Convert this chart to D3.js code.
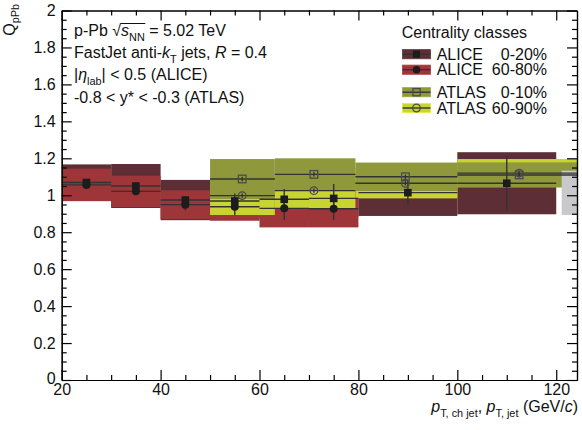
<!DOCTYPE html>
<html>
<head>
<meta charset="utf-8">
<script src="https://cdn.jsdelivr.net/npm/d3@7"></script>
<style>
  body { margin: 0; background: #fff; }
  svg text { font-family: "Liberation Sans", Arial, Helvetica, sans-serif; fill: #111; }
</style>
</head>
<body>
<svg id="chart" width="582" height="430"></svg>
<script>
// ALICE bins (pT, ch jet)
const aliceEdges = [20, 30, 40, 50, 60, 70, 80, 100, 120];
const alice020 = [1.069, 1.050, 0.974, 0.969, 0.978, 0.983, 1.014, 1.065];
const alice020Stat = [0.010, 0.012, 0.020, 0.040, 0.056, 0.078, 0.066, 0.148];
const alice020Sys = [0.098, 0.119, 0.109, 0.100, 0.100, 0.100, 0.126, 0.168];
const alice6080 = [1.056, 1.021, 0.949, 0.938, 0.929, 0.927];
const alice6080Stat = [0.010, 0.015, 0.030, 0.045, 0.063, 0.061];
const alice6080Sys = [0.088, 0.085, 0.078, 0.076, 0.103, 0.101];

// ATLAS bins (pT, jet)
const atlasEdges = [50, 63.1, 79.4, 100, 125.9];
const atlasX = [56.5, 71, 89.5, 112.5];
const atlas010 = [1.088, 1.113, 1.100, 1.110];
const atlas010Stat = [0.012, 0.012, 0.012, 0.012];
const atlas010Sys = [0.108, 0.087, 0.077, 0.068];
const atlas6090 = [0.998, 1.025, 1.065, 1.120];
const atlas6090Stat = [0.012, 0.012, 0.012, 0.012];
const atlas6090Sys = [0.105, 0.096, 0.082, 0.076];

// normalisation uncertainty box
const normX = [121.1, 124.2];
const normY = [0.893, 1.133];

const xMajor = [20, 40, 60, 80, 100, 120];
const xMinor = d3.range(25, 125, 5).filter((v) => v % 20 !== 0);
const yMajor = [0, 0.2, 0.4, 0.6, 0.8, 1, 1.2, 1.4, 1.6, 1.8, 2];
const yMinor = d3.range(0.05, 2, 0.05).filter((v) => Math.abs(v * 5 - Math.round(v * 5)) > 1e-6);

const FS = 16;
const colors = {
  a020: "#5e2e36",
  a6080: "#9d3539",
  t010: "#8f993b",
  t6090: "#c8d431",
  norm: "#c9c9cc",
  line: "#333",
  mark: "#1c1c1c",
  open: "#4a4a4a"
};

const svg = d3.select("#chart");
const x = d3.scaleLinear().domain([20, 124.2]).range([61.7, 577]);
const y = d3.scaleLinear().domain([0, 2]).range([380, 10.5]);

svg.append("defs").append("clipPath").attr("id", "clip")
  .append("rect")
  .attr("x", x(20)).attr("y", y(2))
  .attr("width", x(124.2) - x(20)).attr("height", y(0) - y(2));

const plot = svg.append("g").attr("clip-path", "url(#clip)");

function boxes(edges, vals, sys, color) {
  plot.append("g").selectAll("rect").data(vals).join("rect")
    .attr("x", (d, i) => x(edges[i]))
    .attr("width", (d, i) => x(edges[i + 1]) - x(edges[i]))
    .attr("y", (d, i) => y(d + sys[i]))
    .attr("height", (d, i) => y(d - sys[i]) - y(d + sys[i]))
    .attr("fill", color);
}

boxes(aliceEdges, alice020, alice020Sys, colors.a020);
boxes(aliceEdges, alice6080, alice6080Sys, colors.a6080);
boxes(atlasEdges, atlas6090, atlas6090Sys, colors.t6090);
boxes(atlasEdges, atlas010, atlas010Sys, colors.t010);

plot.append("rect")
  .attr("x", x(normX[0])).attr("width", x(normX[1]) - x(normX[0]))
  .attr("y", y(normY[1])).attr("height", y(normY[0]) - y(normY[1]))
  .attr("fill", colors.norm);

function bars(edges, vals) {
  plot.append("g").selectAll("line").data(vals).join("line")
    .attr("x1", (d, i) => x(edges[i])).attr("x2", (d, i) => x(edges[i + 1]))
    .attr("y1", (d) => y(d)).attr("y2", (d) => y(d))
    .attr("stroke", colors.line).attr("stroke-width", 1.4);
}

function errs(xs, vals, stat) {
  plot.append("g").selectAll("line").data(vals).join("line")
    .attr("x1", (d, i) => x(xs[i])).attr("x2", (d, i) => x(xs[i]))
    .attr("y1", (d, i) => y(d - stat[i])).attr("y2", (d, i) => y(d + stat[i]))
    .attr("stroke", colors.line).attr("stroke-width", 1.4);
}

const aliceX = aliceEdges.slice(0, -1).map((e, i) => (e + aliceEdges[i + 1]) / 2);

bars(atlasEdges, atlas010);
bars(atlasEdges, atlas6090);
bars(aliceEdges, alice020);
bars(aliceEdges, alice6080);
errs(atlasX, atlas010, atlas010Stat);
errs(atlasX, atlas6090, atlas6090Stat);
errs(aliceX, alice020, alice020Stat);
errs(aliceX, alice6080, alice6080Stat);

const sq = 7.6;
plot.append("g").selectAll("circle").data(atlas6090).join("circle")
  .attr("cx", (d, i) => x(atlasX[i])).attr("cy", (d) => y(d)).attr("r", 3.8)
  .attr("fill", "none").attr("stroke", colors.open).attr("stroke-width", 1.3);
plot.append("g").selectAll("rect").data(atlas010).join("rect")
  .attr("x", (d, i) => x(atlasX[i]) - sq / 2).attr("y", (d) => y(d) - sq / 2)
  .attr("width", sq).attr("height", sq)
  .attr("fill", "none").attr("stroke", colors.open).attr("stroke-width", 1.3);
plot.append("g").selectAll("circle").data(alice6080).join("circle")
  .attr("cx", (d, i) => x(aliceX[i])).attr("cy", (d) => y(d)).attr("r", 4)
  .attr("fill", colors.mark);
plot.append("g").selectAll("rect").data(alice020).join("rect")
  .attr("x", (d, i) => x(aliceX[i]) - sq / 2).attr("y", (d) => y(d) - sq / 2)
  .attr("width", sq).attr("height", sq)
  .attr("fill", colors.mark);

// axes, ticks pointing inward on all four sides
function styleAxis(g) {
  g.selectAll("path, line").attr("stroke", "#000").attr("stroke-width", 1.2);
  g.selectAll("text").attr("font-size", FS).attr("fill", "#111")
    .attr("font-family", '"Liberation Sans", Arial, sans-serif');
}

const fmtY = (d) => (d === 0 || d === 1 || d === 2 ? String(d) : d3.format(".1f")(d));

svg.append("g").attr("transform", `translate(0,${y(0)})`)
  .call(d3.axisBottom(x).tickValues(xMajor).tickSizeInner(-10).tickSizeOuter(0).tickPadding(4))
  .call(styleAxis);
svg.append("g").attr("transform", `translate(0,${y(0)})`)
  .call(d3.axisBottom(x).tickValues(xMinor).tickSizeInner(-5).tickSizeOuter(0).tickFormat(""))
  .call(styleAxis);
svg.append("g").attr("transform", `translate(0,${y(2)})`)
  .call(d3.axisTop(x).tickValues(xMajor).tickSizeInner(-10).tickSizeOuter(0).tickFormat(""))
  .call(styleAxis);
svg.append("g").attr("transform", `translate(0,${y(2)})`)
  .call(d3.axisTop(x).tickValues(xMinor).tickSizeInner(-5).tickSizeOuter(0).tickFormat(""))
  .call(styleAxis);
const yAx = svg.append("g").attr("transform", `translate(${x(20)},0)`)
  .call(d3.axisLeft(y).tickValues(yMajor).tickSizeInner(-10).tickSizeOuter(0).tickPadding(6).tickFormat(fmtY))
  .call(styleAxis);
// the "0" label sits a little high, as in the original
yAx.selectAll(".tick text").filter((d) => d === 0).attr("dy", "0.2em");
svg.append("g").attr("transform", `translate(${x(20)},0)`)
  .call(d3.axisLeft(y).tickValues(yMinor).tickSizeInner(-5).tickSizeOuter(0).tickFormat(""))
  .call(styleAxis);
svg.append("g").attr("transform", `translate(${x(124.2)},0)`)
  .call(d3.axisRight(y).tickValues(yMajor).tickSizeInner(-10).tickSizeOuter(0).tickFormat(""))
  .call(styleAxis);
svg.append("g").attr("transform", `translate(${x(124.2)},0)`)
  .call(d3.axisRight(y).tickValues(yMinor).tickSizeInner(-5).tickSizeOuter(0).tickFormat(""))
  .call(styleAxis);

// rich text helper: parts = [{t, i, sub}]
function rich(sel, parts, size) {
  let shifted = false;
  parts.forEach((p) => {
    const ts = sel.append("tspan").text(p.t);
    if (p.i) ts.attr("font-style", "italic");
    if (p.sub && !shifted) { ts.attr("dy", 4.8); shifted = true; }
    else if (!p.sub && shifted) { ts.attr("dy", -4.8); shifted = false; }
    ts.attr("font-size", p.sub ? size * 0.68 : size);
    if (p.id) ts.attr("class", p.id);
  });
  return sel;
}

// axis titles
rich(svg.append("text").attr("x", 578).attr("y", 412).attr("text-anchor", "end"), [
  { t: "p", i: true }, { t: "T, ch jet", sub: true }, { t: ", " },
  { t: "p", i: true }, { t: "T, jet", sub: true }, { t: " (GeV/" },
  { t: "c", i: true }, { t: ")" }
], FS);

rich(svg.append("text").attr("transform", "translate(14.5,4) rotate(-90)").attr("text-anchor", "end"), [
  { t: "Q", i: false }, { t: "pPb", sub: true }
], FS);

// header text
const info = svg.append("g");
const l1 = rich(info.append("text").attr("x", 74).attr("y", 35.7), [
  { t: "p-Pb " }, { t: "\u221A", id: "rt" }, { t: "s", i: true }, { t: "NN", sub: true, id: "nn" },
  { t: " = 5.02 TeV" }
], FS);
const rtBox = l1.select(".rt").node().getBBox();
const nnBox = l1.select(".nn").node().getBBox();
info.append("line")
  .attr("x1", rtBox.x + rtBox.width - 0.8).attr("x2", nnBox.x + nnBox.width + 0.5)
  .attr("y1", rtBox.y + 1.8).attr("y2", rtBox.y + 1.8)
  .attr("stroke", "#111").attr("stroke-width", 1);
rich(info.append("text").attr("x", 74).attr("y", 57.9), [
  { t: "FastJet anti-" }, { t: "k", i: true }, { t: "T", sub: true }, { t: " jets, " },
  { t: "R", i: true }, { t: " = 0.4" }
], FS);
rich(info.append("text").attr("x", 74).attr("y", 80.4), [
  { t: "|" }, { t: "\u03B7", i: true }, { t: "lab", sub: true }, { t: "| < 0.5 (ALICE)" }
], FS);
rich(info.append("text").attr("x", 74).attr("y", 103.3), [
  { t: "-0.8 < y* < -0.3 (ATLAS)" }
], FS);

// legend
const legCats = ["ALICE", "ALICE", "ATLAS", "ATLAS"];
const legPct = ["0-20%", "60-80%", "0-10%", "60-90%"];
const legRowY = [54.2, 69.7, 92.2, 108];
const legFill = [colors.a020, colors.a6080, colors.t010, colors.t6090];
const legMark = ["fsq", "fci", "osq", "oci"];

const leg = svg.append("g");
leg.append("text").attr("x", 401.7).attr("y", 38.3).attr("font-size", FS).text("Centrality classes");
legCats.forEach((c, i) => {
  const cy = legRowY[i];
  const row = leg.append("g");
  row.append("rect").attr("x", 402.5).attr("y", cy - 4.6).attr("width", 28).attr("height", 9.2)
    .attr("fill", legFill[i]).attr("stroke", d3.color(legFill[i]).brighter(0.35)).attr("stroke-width", 0.8);
  row.append("line").attr("x1", 402.5).attr("x2", 430.5).attr("y1", cy).attr("y2", cy)
    .attr("stroke", colors.line).attr("stroke-width", 1.4);
  const m = legMark[i];
  if (m === "fsq") row.append("rect").attr("x", 416.5 - 3.6).attr("y", cy - 3.6).attr("width", 7.2).attr("height", 7.2).attr("fill", colors.mark);
  if (m === "fci") row.append("circle").attr("cx", 416.5).attr("cy", cy).attr("r", 3.8).attr("fill", colors.mark);
  if (m === "osq") row.append("rect").attr("x", 416.5 - 3.6).attr("y", cy - 3.6).attr("width", 7.2).attr("height", 7.2).attr("fill", "none").attr("stroke", colors.open).attr("stroke-width", 1.3);
  if (m === "oci") row.append("circle").attr("cx", 416.5).attr("cy", cy).attr("r", 3.8).attr("fill", "none").attr("stroke", colors.open).attr("stroke-width", 1.3);
  row.append("text").attr("x", 436.7).attr("y", cy + 5.5).attr("font-size", FS).text(c);
  row.append("text").attr("x", 547).attr("y", cy + 5.5).attr("font-size", FS).attr("text-anchor", "end").text(legPct[i]);
});
</script>
</body>
</html>
